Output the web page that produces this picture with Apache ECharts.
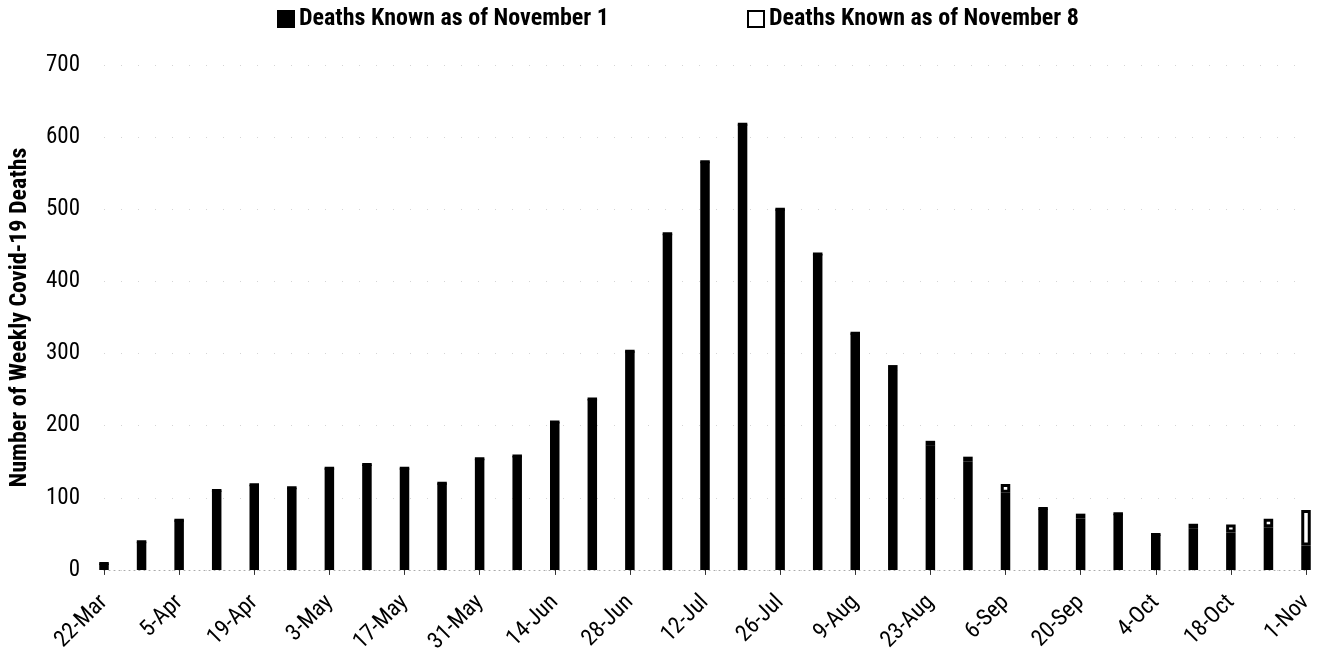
<!DOCTYPE html>
<html>
<head>
<meta charset="utf-8">
<script src="https://cdn.jsdelivr.net/npm/echarts@6/dist/echarts.min.js"></script>
<style>
html,body{margin:0;padding:0;background:#fff;}
#chart{width:1322px;height:656px;}
</style>
</head>
<body>
<div id="chart"></div>
<script>
const categories = ['22-Mar','29-Mar','5-Apr','12-Apr','19-Apr','26-Apr','3-May','10-May','17-May','24-May','31-May','7-Jun','14-Jun','21-Jun','28-Jun','5-Jul','12-Jul','19-Jul','26-Jul','2-Aug','9-Aug','16-Aug','23-Aug','30-Aug','6-Sep','13-Sep','20-Sep','27-Sep','4-Oct','11-Oct','18-Oct','25-Oct','1-Nov'];
const knownNov1 = [9,39,69,110,118,114,141,146,141,120,154,158,205,237,303,466,566,618,500,438,328,277,172,150,107,85,71,78,49,57,52,59,34];
const addedByNov8 = [0,0,0,0,0,0,0,0,0,0,0,0,0,0,0,0,0,0,0,0,0,7,7,7,12,0,7,0,0,7,11,12,49];
const seriesNames = ['Deaths Known as of November 1','Deaths Known as of November 8'];

const FONT = "'Liberation Sans Narrow','Roboto Condensed','Liberation Sans',sans-serif";
const chart = echarts.init(document.getElementById('chart'), null, {renderer:'canvas'});
const legendText = {fontFamily:FONT, fontSize:24, fontWeight:'bold', color:'#000'};
chart.setOption({
  animation:false,
  backgroundColor:'#fff',
  textStyle:{fontFamily:FONT},
  legend:[
    {data:[{name:seriesNames[0], icon:'rect'}], left:272, top:2, itemWidth:16, itemHeight:16, textStyle:legendText},
    {data:[{name:seriesNames[1], icon:'rect'}], left:742, top:2, itemWidth:16, itemHeight:16, textStyle:legendText}
  ],
  grid:{left:101, right:16, top:65, bottom:81, containLabel:false},
  xAxis:{
    type:'category', data:categories, boundaryGap:false,
    axisLine:{lineStyle:{color:'#aaa', width:1, type:[1,4]}},
    axisTick:{show:true, interval:1, length:5, lineStyle:{color:'#333'}},
    axisLabel:{interval:1, rotate:45, fontSize:23, color:'#000', margin:29, fontFamily:FONT}
  },
  yAxis:{
    type:'value', min:0, max:700, interval:100,
    name:'Number of Weekly Covid-19 Deaths', nameLocation:'middle', nameGap:72,
    nameTextStyle:{fontFamily:FONT, fontSize:24, fontWeight:'bold', color:'#000'},
    axisLine:{show:false}, axisTick:{show:false},
    axisLabel:{fontSize:23, color:'#000', margin:24, fontFamily:FONT},
    splitLine:{lineStyle:{color:'#d4d4d4', width:1, type:[1,16]}}
  },
  series:[
    {name:seriesNames[0], type:'bar', stack:'deaths', data:knownNov1, barWidth:9.5, clip:false,
     itemStyle:{color:'#000', borderColor:'#000', borderWidth:3}},
    {name:seriesNames[1], type:'bar', stack:'deaths', data:addedByNov8, barWidth:9.5, clip:false,
     itemStyle:{color:'#fff', borderColor:'#000', borderWidth:3}}
  ]
});
</script>
</body>
</html>
